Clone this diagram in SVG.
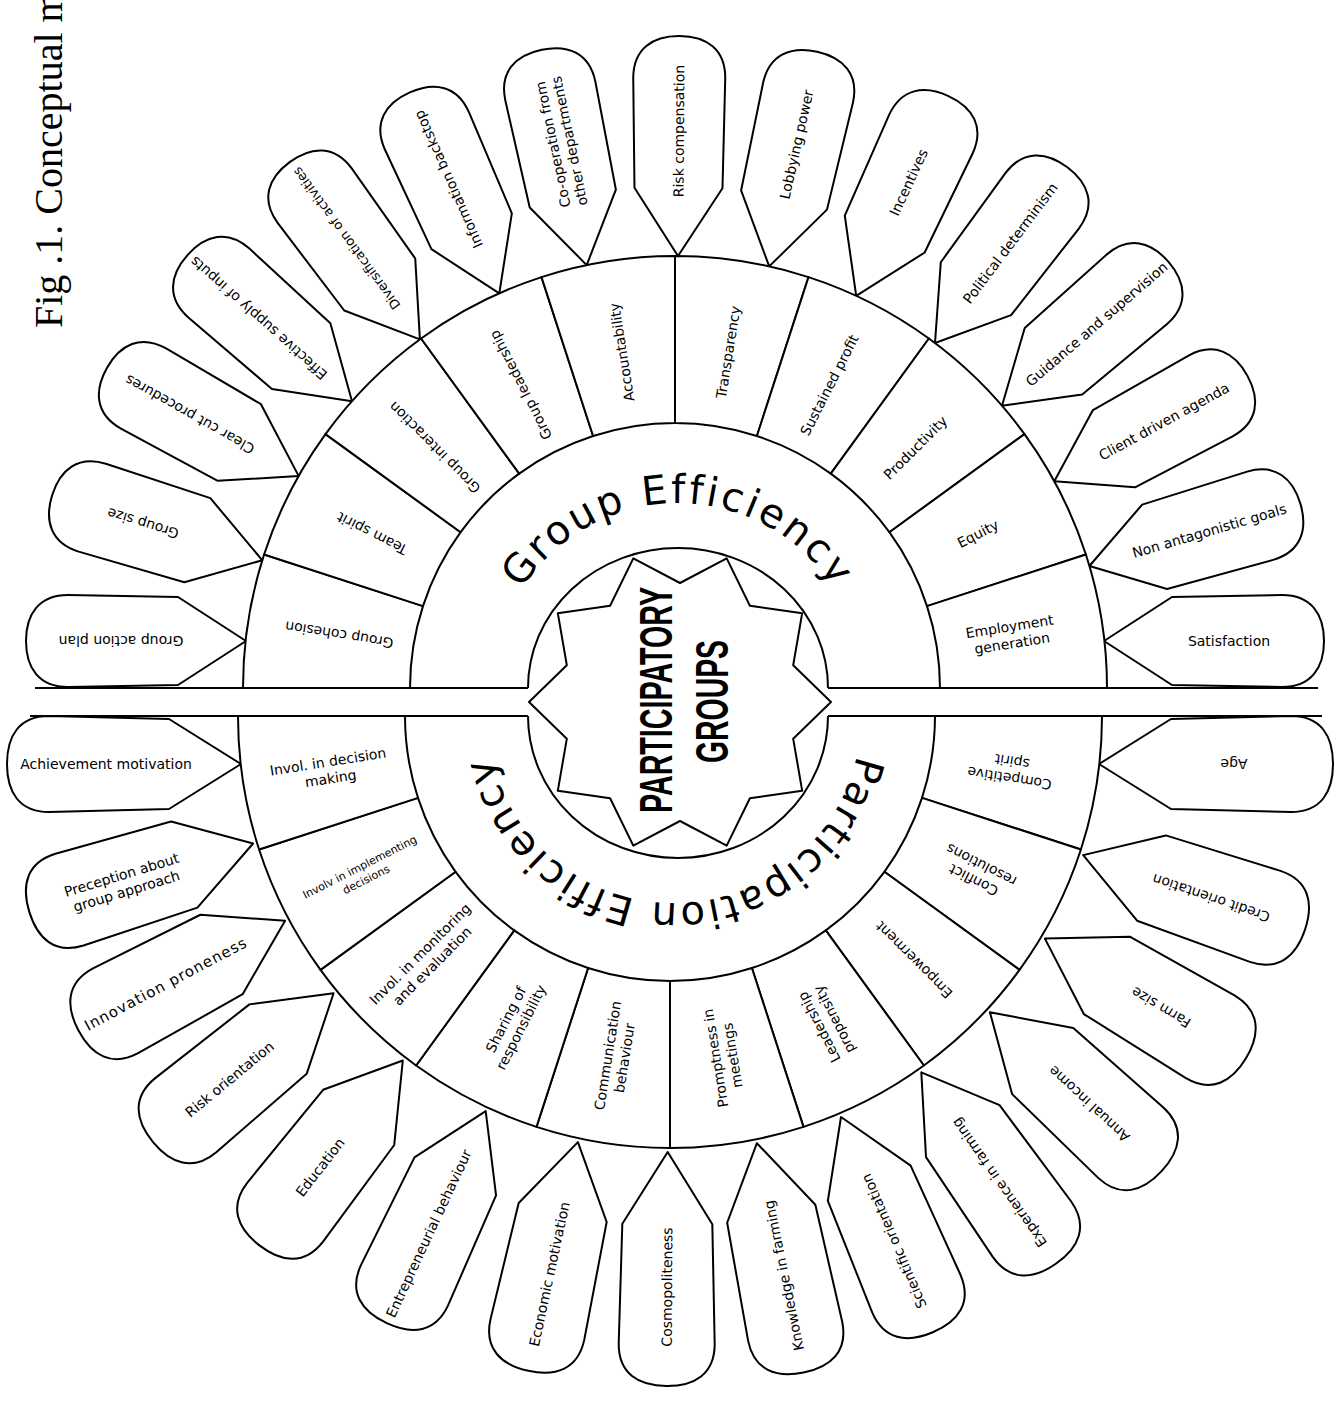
<svg xmlns="http://www.w3.org/2000/svg" xmlns:xlink="http://www.w3.org/1999/xlink" width="1343" height="1408" viewBox="0 0 1343 1408">
<style>
.shape{fill:#fff;stroke:#000;stroke-width:2;stroke-linejoin:round}
.line{fill:none;stroke:#000;stroke-width:2}
.lbl{font-family:"DejaVu Sans",sans-serif;font-size:14px;text-anchor:middle;fill:#000}
.big{font-family:"DejaVu Sans",sans-serif;font-size:40px;fill:#000;letter-spacing:2.8px}
.hub{font-family:"Liberation Sans",sans-serif;font-weight:bold;font-size:46px;fill:#000}
.title{font-family:"Liberation Serif",serif;font-size:40px;fill:#000}
</style>
<defs>
<path id="pu" class="shape" d="M0,0 L68,-44 L178,-46 C207,-46 220,-27 220,0 C220,27 207,46 178,46 L68,44 Z"/>
<path id="pd" class="shape" d="M0,0 L72,-45 L192,-48 C222,-48 234,-28 234,0 C234,28 222,48 192,48 L72,45 Z"/>
<path id="arcTop" d="M504.2,624.7 A185,185 0 0 1 851.8,624.7"/>
<path id="arcBot" d="M860.3,732.3 A187,187 0 0 1 487.7,732.3"/>
</defs>
<rect width="1343" height="1408" fill="#fff"/>
<g id="title"><text class="title" transform="translate(62,328) rotate(-90)">Fig .1. Conceptual m</text></g>

<g id="band">
<path class="line" d="M35,688 H528 M828,688 H1318 M30,716 H528 M828,716 H1322"/>
</g>

<!-- upper petals -->
<g id="petal-group-action-plan" transform="translate(246,641) rotate(180)"><use href="#pu"/><text class="lbl" x="125" y="5">Group action plan</text></g>
<g id="petal-group-size" transform="translate(262.3,560.3) rotate(197.2)"><use href="#pu"/><text class="lbl" x="125" y="5">Group size</text></g>
<g id="petal-clear-cut-procedures" transform="translate(298.6,475.9) rotate(209.4)"><use href="#pu"/><text class="lbl" x="125" y="5">Clear cut procedures</text></g>
<g id="petal-effective-supply" transform="translate(352,401.2) rotate(221.6)"><use href="#pu"/><text class="lbl" x="125" y="5">Effective supply of inputs</text></g>
<g id="petal-diversification" transform="translate(419.9,339.4) rotate(233.8)"><use href="#pu"/><text class="lbl" x="125" y="5" style="font-size:13px">Diversification of activities</text></g>
<g id="petal-information-backstop" transform="translate(499.3,293.4) rotate(246)"><use href="#pu"/><text class="lbl" x="125" y="5">Information backstop</text></g>
<g id="petal-cooperation" transform="translate(586.7,265.1) rotate(258.2)"><use href="#pu"/><text class="lbl"><tspan x="125" y="-3.5">Co-operation from</tspan><tspan x="125" y="13.5">other departments</tspan></text></g>
<g id="petal-risk-compensation" transform="translate(678,256) rotate(270.4)"><use href="#pu"/><text class="lbl" x="125" y="5">Risk compensation</text></g>
<g id="petal-lobbying-power" transform="translate(769.2,266.4) rotate(282.6)"><use href="#pu"/><text class="lbl" x="125" y="5">Lobbying power</text></g>
<g id="petal-incentives" transform="translate(856.2,295.8) rotate(294.8)"><use href="#pu"/><text class="lbl" x="125" y="5">Incentives</text></g>
<g id="petal-political-determinism" transform="translate(935,343) rotate(307)"><use href="#pu"/><text class="lbl" x="125" y="5">Political determinism</text></g>
<g id="petal-guidance" transform="translate(1002,405.7) rotate(319.2)"><use href="#pu"/><text class="lbl" x="125" y="5">Guidance and supervision</text></g>
<g id="petal-client-driven" transform="translate(1054.3,481.2) rotate(331.4)"><use href="#pu"/><text class="lbl" x="125" y="5">Client driven agenda</text></g>
<g id="petal-non-antagonistic" transform="translate(1089.4,566) rotate(343.6)"><use href="#pu"/><text class="lbl" x="125" y="5">Non antagonistic goals</text></g>
<g id="petal-satisfaction" transform="translate(1104,641)"><use href="#pu"/><text class="lbl" x="125" y="5">Satisfaction</text></g>

<!-- lower petals -->
<g id="petal-achievement" transform="translate(241,764) rotate(180)"><use href="#pd"/><text class="lbl" transform="translate(135,0) rotate(180)" y="5">Achievement motivation</text></g>
<g id="petal-preception" transform="translate(253.1,843.5) rotate(163)"><use href="#pd"/><text class="lbl" transform="translate(135,0) rotate(180)"><tspan x="0" y="-3.5">Preception about</tspan><tspan x="0" y="13.5">group approach</tspan></text></g>
<g id="petal-innovation" transform="translate(285.1,920.7) rotate(152)"><use href="#pd"/><text class="lbl" transform="translate(135,0) rotate(180)" y="5" style="font-size:15px;letter-spacing:1px">Innovation proneness</text></g>
<g id="petal-risk-orientation" transform="translate(333.6,993.3) rotate(140.5)"><use href="#pd"/><text class="lbl" transform="translate(135,0) rotate(180)" y="5">Risk orientation</text></g>
<g id="petal-education" transform="translate(402.8,1060.5) rotate(127.8)"><use href="#pd"/><text class="lbl" transform="translate(135,0) rotate(180)" y="5">Education</text></g>
<g id="petal-entrepreneurial" transform="translate(485.7,1111.1) rotate(115)"><use href="#pd"/><text class="lbl" transform="translate(135,0) rotate(180)" y="5">Entrepreneurial behaviour</text></g>
<g id="petal-economic" transform="translate(577.9,1142.1) rotate(102.2)"><use href="#pd"/><text class="lbl" transform="translate(135,0) rotate(180)" y="5">Economic motivation</text></g>
<g id="petal-cosmopoliteness" transform="translate(667.7,1152) rotate(90.3)"><use href="#pd"/><text class="lbl" transform="translate(135,0) rotate(180)" y="5">Cosmopoliteness</text></g>
<g id="petal-knowledge" transform="translate(756.9,1143.2) rotate(78.5)"><use href="#pd"/><text class="lbl" transform="translate(135,0) rotate(180)" y="5">Knowledge in farming</text></g>
<g id="petal-scientific" transform="translate(841,1117) rotate(66.9)"><use href="#pd"/><text class="lbl" transform="translate(135,0) rotate(180)" y="5">Scientific orientation</text></g>
<g id="petal-experience" transform="translate(921.3,1072.3) rotate(54.8)"><use href="#pd"/><text class="lbl" transform="translate(135,0) rotate(180)" y="5">Experience in farming</text></g>
<g id="petal-annual-income" transform="translate(989.9,1012.2) rotate(42.8)"><use href="#pd"/><text class="lbl" transform="translate(135,0) rotate(180)" y="5">Annual income</text></g>
<g id="petal-farm-size" transform="translate(1044.9,938.6) rotate(30.7)"><use href="#pd"/><text class="lbl" transform="translate(135,0) rotate(180)" y="5">Farm size</text></g>
<g id="petal-credit" transform="translate(1083.2,855.1) rotate(18.6)"><use href="#pd"/><text class="lbl" transform="translate(135,0) rotate(180)" y="5">Credit orientation</text></g>
<g id="petal-age" transform="translate(1099,764)"><use href="#pd"/><text class="lbl" transform="translate(135,0) rotate(180)" y="5">Age</text></g>

<!-- upper segments -->
<g id="seg-group-cohesion"><path class="shape" d="M410,688 L243,688 A432,432 0 0 1 264.1,554.5 L423,606.1 A265,265 0 0 0 410,688 Z"/><text class="lbl" transform="translate(675,688) rotate(189) translate(340,0)" y="5">Group cohesion</text></g>
<g id="seg-team-spirit"><path class="shape" d="M423,606.1 L264.1,554.5 A432,432 0 0 1 325.5,434.1 L460.6,532.2 A265,265 0 0 0 423,606.1 Z"/><text class="lbl" transform="translate(675,688) rotate(207) translate(340,0)" y="5">Team spirit</text></g>
<g id="seg-group-interaction"><path class="shape" d="M460.6,532.2 L325.5,434.1 A432,432 0 0 1 421.1,338.5 L519.2,473.6 A265,265 0 0 0 460.6,532.2 Z"/><text class="lbl" transform="translate(675,688) rotate(225) translate(340,0)" y="5">Group interaction</text></g>
<g id="seg-group-leadership"><path class="shape" d="M519.2,473.6 L421.1,338.5 A432,432 0 0 1 541.5,277.1 L593.1,436 A265,265 0 0 0 519.2,473.6 Z"/><text class="lbl" transform="translate(675,688) rotate(243) translate(340,0)" y="5">Group leadership</text></g>
<g id="seg-accountability"><path class="shape" d="M593.1,436 L541.5,277.1 A432,432 0 0 1 675,256 L675,423 A265,265 0 0 0 593.1,436 Z"/><text class="lbl" transform="translate(675,688) rotate(261) translate(340,0)" y="5">Accountability</text></g>
<g id="seg-transparency"><path class="shape" d="M675,423 L675,256 A432,432 0 0 1 808.5,277.1 L756.9,436 A265,265 0 0 0 675,423 Z"/><text class="lbl" transform="translate(675,688) rotate(279) translate(340,0)" y="5">Transparency</text></g>
<g id="seg-sustained-profit"><path class="shape" d="M756.9,436 L808.5,277.1 A432,432 0 0 1 928.9,338.5 L830.8,473.6 A265,265 0 0 0 756.9,436 Z"/><text class="lbl" transform="translate(675,688) rotate(297) translate(340,0)" y="5">Sustained profit</text></g>
<g id="seg-productivity"><path class="shape" d="M830.8,473.6 L928.9,338.5 A432,432 0 0 1 1024.5,434.1 L889.4,532.2 A265,265 0 0 0 830.8,473.6 Z"/><text class="lbl" transform="translate(675,688) rotate(315) translate(340,0)" y="5">Productivity</text></g>
<g id="seg-equity"><path class="shape" d="M889.4,532.2 L1024.5,434.1 A432,432 0 0 1 1085.9,554.5 L927,606.1 A265,265 0 0 0 889.4,532.2 Z"/><text class="lbl" transform="translate(675,688) rotate(333) translate(340,0)" y="5">Equity</text></g>
<g id="seg-employment"><path class="shape" d="M927,606.1 L1085.9,554.5 A432,432 0 0 1 1107,688 L940,688 A265,265 0 0 0 927,606.1 Z"/><text class="lbl" transform="translate(675,688) rotate(351) translate(340,0)"><tspan x="0" y="-3.5">Employment</tspan><tspan x="0" y="13.5">generation</tspan></text></g>

<!-- lower segments -->
<g id="seg-competitive"><path class="shape" d="M935,716 L1102,716 A432,432 0 0 1 1080.9,849.5 L922,797.9 A265,265 0 0 0 935,716 Z"/><text class="lbl" transform="translate(670,716) rotate(9) translate(345,0) rotate(180)"><tspan x="0" y="-3.5">Competitive</tspan><tspan x="0" y="13.5">spirit</tspan></text></g>
<g id="seg-conflict"><path class="shape" d="M922,797.9 L1080.9,849.5 A432,432 0 0 1 1019.5,969.9 L884.4,871.8 A265,265 0 0 0 922,797.9 Z"/><text class="lbl" transform="translate(670,716) rotate(27) translate(345,0) rotate(180)"><tspan x="0" y="-3.5">Conflict</tspan><tspan x="0" y="13.5">resolutions</tspan></text></g>
<g id="seg-empowerment"><path class="shape" d="M884.4,871.8 L1019.5,969.9 A432,432 0 0 1 923.9,1065.5 L825.8,930.4 A265,265 0 0 0 884.4,871.8 Z"/><text class="lbl" transform="translate(670,716) rotate(45) translate(345,0) rotate(180)" y="5">Empowerment</text></g>
<g id="seg-leadership"><path class="shape" d="M825.8,930.4 L923.9,1065.5 A432,432 0 0 1 803.5,1126.9 L751.9,968 A265,265 0 0 0 825.8,930.4 Z"/><text class="lbl" transform="translate(670,716) rotate(63) translate(345,0) rotate(180)"><tspan x="0" y="-3.5">Leadership</tspan><tspan x="0" y="13.5">propensity</tspan></text></g>
<g id="seg-promptness"><path class="shape" d="M751.9,968 L803.5,1126.9 A432,432 0 0 1 670,1148 L670,981 A265,265 0 0 0 751.9,968 Z"/><text class="lbl" transform="translate(670,716) rotate(81) translate(345,0) rotate(180)"><tspan x="0" y="-3.5">Promptness in</tspan><tspan x="0" y="13.5">meetings</tspan></text></g>
<g id="seg-communication"><path class="shape" d="M670,981 L670,1148 A432,432 0 0 1 536.5,1126.9 L588.1,968 A265,265 0 0 0 670,981 Z"/><text class="lbl" transform="translate(670,716) rotate(99) translate(345,0) rotate(180)"><tspan x="0" y="-3.5">Communication</tspan><tspan x="0" y="13.5">behaviour</tspan></text></g>
<g id="seg-sharing"><path class="shape" d="M588.1,968 L536.5,1126.9 A432,432 0 0 1 416.1,1065.5 L514.2,930.4 A265,265 0 0 0 588.1,968 Z"/><text class="lbl" transform="translate(670,716) rotate(117) translate(345,0) rotate(180)"><tspan x="0" y="-3.5">Sharing of</tspan><tspan x="0" y="13.5">responsibility</tspan></text></g>
<g id="seg-monitoring"><path class="shape" d="M514.2,930.4 L416.1,1065.5 A432,432 0 0 1 320.5,969.9 L455.6,871.8 A265,265 0 0 0 514.2,930.4 Z"/><text class="lbl" transform="translate(670,716) rotate(135) translate(345,0) rotate(180)"><tspan x="0" y="-3.5">Invol. in monitoring</tspan><tspan x="0" y="13.5">and evaluation</tspan></text></g>
<g id="seg-implementing"><path class="shape" d="M455.6,871.8 L320.5,969.9 A432,432 0 0 1 259.1,849.5 L418,797.9 A265,265 0 0 0 455.6,871.8 Z"/><text class="lbl" transform="translate(670,716) rotate(153) translate(345,0) rotate(180)" style="font-size:11px"><tspan x="0" y="-2.5">Involv  in implementing</tspan><tspan x="0" y="11.5">decisions</tspan></text></g>
<g id="seg-decision"><path class="shape" d="M418,797.9 L259.1,849.5 A432,432 0 0 1 238,716 L405,716 A265,265 0 0 0 418,797.9 Z"/><text class="lbl" transform="translate(670,716) rotate(171) translate(345,0) rotate(180)"><tspan x="0" y="-3.5">Invol. in decision</tspan><tspan x="0" y="13.5">making</tspan></text></g>

<!-- ring labels -->
<g id="ring-group-efficiency"><text class="big"><textPath href="#arcTop" startOffset="50%" text-anchor="middle">Group Efficiency</textPath></text></g>
<g id="ring-participation-efficiency"><text class="big" style="letter-spacing:2.2px"><textPath href="#arcBot" startOffset="50%" text-anchor="middle">Participation Efficiency</textPath></text></g>

<!-- hub -->
<g id="hub">
<path class="line" d="M528,688 A150,140 0 0 1 828,688 M528,716 A150,142 0 0 0 828,716"/>
<path class="shape" d="M831,702 L793.2,738.8 L802.2,790.8 L749.9,798.3 L726.7,845.6 L680,821 L633.3,845.6 L610.1,798.3 L557.8,790.8 L566.8,738.8 L529,702 L566.8,665.2 L557.8,613.2 L610.1,605.7 L633.3,558.4 L680,583 L726.7,558.4 L749.9,605.7 L802.2,613.2 L793.2,665.2 Z"/>
<text class="hub" transform="translate(672,813) rotate(-90)" textLength="226" lengthAdjust="spacingAndGlyphs">PARTICIPATORY</text>
<text class="hub" transform="translate(728,763) rotate(-90)" textLength="123" lengthAdjust="spacingAndGlyphs">GROUPS</text>
</g>
</svg>
